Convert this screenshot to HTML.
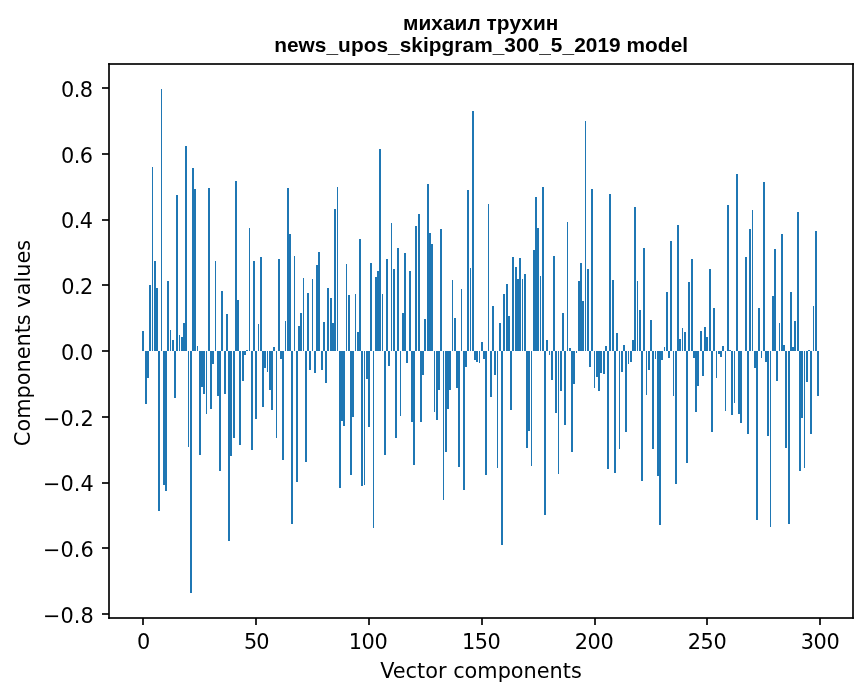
<!DOCTYPE html>
<html lang="ru">
<head>
<meta charset="utf-8">
<title>михаил трухин — news_upos_skipgram_300_5_2019 model</title>
<style>
html,body{margin:0;padding:0;background:#fff;}
body{width:867px;height:696px;overflow:hidden;position:relative;}
svg{will-change:transform;position:absolute;left:0;top:0;display:block;}
.g rect{shape-rendering:crispEdges;}
text{font-family:"DejaVu Sans","Liberation Sans",sans-serif;font-size:20.833px;fill:#000;}
.t{font-family:"Liberation Sans","DejaVu Sans",sans-serif;font-weight:bold;font-size:20.833px;text-anchor:middle;}
.y{text-anchor:end;}
.x{text-anchor:middle;}
</style>
</head>
<body>
<svg width="867" height="696" viewBox="0 0 867 696">
<rect width="867" height="696" fill="#ffffff"/>
<g class="g">
<g fill="#1f77b4">
<rect x="142" y="331" width="2" height="20"/>
<rect x="145" y="351" width="2" height="53"/>
<rect x="147" y="351" width="2" height="27"/>
<rect x="149" y="285" width="2" height="66"/>
<rect x="152" y="167" width="1" height="184"/>
<rect x="154" y="261" width="2" height="90"/>
<rect x="156" y="288" width="2" height="63"/>
<rect x="158" y="351" width="2" height="160"/>
<rect x="161" y="89" width="1" height="262"/>
<rect x="163" y="351" width="2" height="134"/>
<rect x="165" y="351" width="2" height="140"/>
<rect x="167" y="281" width="2" height="70"/>
<rect x="170" y="330" width="1" height="21"/>
<rect x="172" y="340" width="2" height="11"/>
<rect x="174" y="351" width="2" height="47"/>
<rect x="176" y="195" width="2" height="156"/>
<rect x="179" y="335" width="1" height="16"/>
<rect x="181" y="337" width="2" height="14"/>
<rect x="183" y="323" width="2" height="28"/>
<rect x="185" y="146" width="2" height="205"/>
<rect x="188" y="351" width="1" height="96"/>
<rect x="190" y="351" width="2" height="242"/>
<rect x="192" y="168" width="2" height="183"/>
<rect x="194" y="189" width="2" height="162"/>
<rect x="197" y="346" width="1" height="5"/>
<rect x="199" y="351" width="2" height="104"/>
<rect x="201" y="351" width="2" height="36"/>
<rect x="203" y="351" width="2" height="43"/>
<rect x="206" y="351" width="1" height="63"/>
<rect x="208" y="188" width="2" height="163"/>
<rect x="210" y="351" width="2" height="58"/>
<rect x="212" y="351" width="2" height="13"/>
<rect x="215" y="261" width="1" height="90"/>
<rect x="217" y="351" width="2" height="45"/>
<rect x="219" y="351" width="2" height="120"/>
<rect x="221" y="291" width="2" height="60"/>
<rect x="224" y="351" width="2" height="43"/>
<rect x="226" y="314" width="2" height="37"/>
<rect x="228" y="351" width="2" height="190"/>
<rect x="230" y="351" width="2" height="105"/>
<rect x="233" y="351" width="2" height="87"/>
<rect x="235" y="181" width="2" height="170"/>
<rect x="237" y="300" width="2" height="51"/>
<rect x="239" y="351" width="2" height="94"/>
<rect x="242" y="351" width="2" height="30"/>
<rect x="244" y="351" width="2" height="4"/>
<rect x="246" y="350" width="2" height="1"/>
<rect x="249" y="228" width="1" height="123"/>
<rect x="251" y="351" width="2" height="99"/>
<rect x="253" y="261" width="2" height="90"/>
<rect x="255" y="351" width="2" height="68"/>
<rect x="258" y="324" width="1" height="27"/>
<rect x="260" y="257" width="2" height="94"/>
<rect x="262" y="351" width="2" height="56"/>
<rect x="264" y="351" width="2" height="17"/>
<rect x="267" y="351" width="1" height="21"/>
<rect x="269" y="351" width="2" height="39"/>
<rect x="271" y="351" width="2" height="59"/>
<rect x="273" y="347" width="2" height="4"/>
<rect x="276" y="351" width="1" height="87"/>
<rect x="278" y="259" width="2" height="92"/>
<rect x="280" y="351" width="2" height="8"/>
<rect x="282" y="351" width="2" height="109"/>
<rect x="285" y="321" width="1" height="30"/>
<rect x="287" y="188" width="2" height="163"/>
<rect x="289" y="234" width="2" height="117"/>
<rect x="291" y="351" width="2" height="173"/>
<rect x="294" y="256" width="1" height="95"/>
<rect x="296" y="351" width="2" height="131"/>
<rect x="298" y="326" width="2" height="25"/>
<rect x="300" y="313" width="2" height="38"/>
<rect x="303" y="278" width="1" height="73"/>
<rect x="305" y="351" width="2" height="111"/>
<rect x="307" y="293" width="2" height="58"/>
<rect x="309" y="351" width="2" height="19"/>
<rect x="312" y="279" width="1" height="72"/>
<rect x="314" y="351" width="2" height="22"/>
<rect x="316" y="265" width="2" height="86"/>
<rect x="318" y="252" width="2" height="99"/>
<rect x="321" y="351" width="2" height="19"/>
<rect x="323" y="322" width="2" height="29"/>
<rect x="325" y="351" width="2" height="32"/>
<rect x="327" y="288" width="2" height="63"/>
<rect x="330" y="298" width="2" height="53"/>
<rect x="332" y="323" width="2" height="28"/>
<rect x="334" y="209" width="2" height="142"/>
<rect x="337" y="187" width="1" height="164"/>
<rect x="339" y="351" width="2" height="137"/>
<rect x="341" y="351" width="2" height="70"/>
<rect x="343" y="351" width="2" height="75"/>
<rect x="346" y="264" width="1" height="87"/>
<rect x="348" y="295" width="2" height="56"/>
<rect x="350" y="351" width="2" height="124"/>
<rect x="352" y="351" width="2" height="66"/>
<rect x="355" y="294" width="1" height="57"/>
<rect x="357" y="332" width="2" height="19"/>
<rect x="359" y="239" width="2" height="112"/>
<rect x="361" y="351" width="2" height="135"/>
<rect x="364" y="351" width="1" height="134"/>
<rect x="366" y="351" width="2" height="28"/>
<rect x="368" y="351" width="2" height="76"/>
<rect x="370" y="263" width="2" height="88"/>
<rect x="373" y="351" width="1" height="177"/>
<rect x="375" y="277" width="2" height="74"/>
<rect x="377" y="271" width="2" height="80"/>
<rect x="379" y="149" width="2" height="202"/>
<rect x="382" y="294" width="1" height="57"/>
<rect x="384" y="351" width="2" height="104"/>
<rect x="386" y="259" width="2" height="92"/>
<rect x="388" y="351" width="2" height="15"/>
<rect x="391" y="223" width="1" height="128"/>
<rect x="393" y="269" width="2" height="82"/>
<rect x="395" y="351" width="2" height="87"/>
<rect x="397" y="248" width="2" height="103"/>
<rect x="400" y="351" width="1" height="65"/>
<rect x="402" y="313" width="2" height="38"/>
<rect x="404" y="253" width="2" height="98"/>
<rect x="406" y="351" width="2" height="12"/>
<rect x="409" y="271" width="2" height="80"/>
<rect x="411" y="351" width="2" height="71"/>
<rect x="413" y="351" width="2" height="114"/>
<rect x="415" y="226" width="2" height="125"/>
<rect x="418" y="214" width="2" height="137"/>
<rect x="420" y="351" width="2" height="71"/>
<rect x="422" y="351" width="2" height="24"/>
<rect x="424" y="319" width="2" height="32"/>
<rect x="427" y="184" width="2" height="167"/>
<rect x="429" y="233" width="2" height="118"/>
<rect x="431" y="244" width="2" height="107"/>
<rect x="434" y="351" width="1" height="61"/>
<rect x="436" y="351" width="2" height="69"/>
<rect x="438" y="351" width="2" height="39"/>
<rect x="440" y="229" width="2" height="122"/>
<rect x="443" y="351" width="1" height="149"/>
<rect x="445" y="351" width="2" height="101"/>
<rect x="447" y="351" width="2" height="58"/>
<rect x="449" y="351" width="2" height="39"/>
<rect x="452" y="280" width="1" height="71"/>
<rect x="454" y="318" width="2" height="33"/>
<rect x="456" y="351" width="2" height="37"/>
<rect x="458" y="351" width="2" height="116"/>
<rect x="461" y="289" width="1" height="62"/>
<rect x="463" y="351" width="2" height="139"/>
<rect x="465" y="351" width="2" height="16"/>
<rect x="467" y="190" width="2" height="161"/>
<rect x="470" y="268" width="1" height="83"/>
<rect x="472" y="111" width="2" height="240"/>
<rect x="474" y="351" width="2" height="9"/>
<rect x="476" y="351" width="2" height="11"/>
<rect x="479" y="351" width="1" height="12"/>
<rect x="481" y="342" width="2" height="9"/>
<rect x="483" y="351" width="2" height="8"/>
<rect x="485" y="351" width="2" height="124"/>
<rect x="488" y="204" width="1" height="147"/>
<rect x="490" y="351" width="2" height="46"/>
<rect x="492" y="306" width="2" height="45"/>
<rect x="494" y="351" width="2" height="24"/>
<rect x="497" y="351" width="1" height="117"/>
<rect x="499" y="323" width="2" height="28"/>
<rect x="501" y="351" width="2" height="194"/>
<rect x="503" y="294" width="2" height="57"/>
<rect x="506" y="284" width="2" height="67"/>
<rect x="508" y="316" width="2" height="35"/>
<rect x="510" y="351" width="2" height="59"/>
<rect x="512" y="257" width="2" height="94"/>
<rect x="515" y="267" width="2" height="84"/>
<rect x="517" y="279" width="2" height="72"/>
<rect x="519" y="258" width="2" height="93"/>
<rect x="522" y="279" width="1" height="72"/>
<rect x="524" y="274" width="2" height="77"/>
<rect x="526" y="351" width="2" height="97"/>
<rect x="528" y="351" width="2" height="80"/>
<rect x="531" y="351" width="1" height="115"/>
<rect x="533" y="250" width="2" height="101"/>
<rect x="535" y="197" width="2" height="154"/>
<rect x="537" y="228" width="2" height="123"/>
<rect x="540" y="276" width="1" height="75"/>
<rect x="542" y="187" width="2" height="164"/>
<rect x="544" y="351" width="2" height="164"/>
<rect x="546" y="340" width="2" height="11"/>
<rect x="549" y="351" width="1" height="4"/>
<rect x="551" y="351" width="2" height="29"/>
<rect x="553" y="256" width="2" height="95"/>
<rect x="555" y="351" width="2" height="62"/>
<rect x="558" y="351" width="1" height="123"/>
<rect x="560" y="351" width="2" height="40"/>
<rect x="562" y="313" width="2" height="38"/>
<rect x="564" y="351" width="2" height="74"/>
<rect x="567" y="222" width="1" height="129"/>
<rect x="569" y="348" width="2" height="3"/>
<rect x="571" y="351" width="2" height="101"/>
<rect x="573" y="351" width="2" height="33"/>
<rect x="576" y="351" width="1" height="2"/>
<rect x="578" y="281" width="2" height="70"/>
<rect x="580" y="263" width="2" height="88"/>
<rect x="582" y="301" width="2" height="50"/>
<rect x="585" y="121" width="1" height="230"/>
<rect x="587" y="269" width="2" height="82"/>
<rect x="589" y="351" width="2" height="16"/>
<rect x="591" y="189" width="2" height="162"/>
<rect x="594" y="351" width="1" height="37"/>
<rect x="596" y="351" width="2" height="26"/>
<rect x="598" y="351" width="2" height="40"/>
<rect x="600" y="351" width="2" height="22"/>
<rect x="603" y="351" width="2" height="23"/>
<rect x="605" y="346" width="2" height="5"/>
<rect x="607" y="351" width="2" height="118"/>
<rect x="609" y="194" width="2" height="157"/>
<rect x="612" y="280" width="2" height="71"/>
<rect x="614" y="351" width="2" height="122"/>
<rect x="616" y="333" width="2" height="18"/>
<rect x="619" y="351" width="1" height="98"/>
<rect x="621" y="351" width="2" height="21"/>
<rect x="623" y="345" width="2" height="6"/>
<rect x="625" y="351" width="2" height="81"/>
<rect x="628" y="351" width="1" height="13"/>
<rect x="630" y="351" width="2" height="11"/>
<rect x="632" y="340" width="2" height="11"/>
<rect x="634" y="207" width="2" height="144"/>
<rect x="637" y="281" width="1" height="70"/>
<rect x="639" y="310" width="2" height="41"/>
<rect x="641" y="351" width="2" height="130"/>
<rect x="643" y="248" width="2" height="103"/>
<rect x="646" y="351" width="1" height="44"/>
<rect x="648" y="351" width="2" height="19"/>
<rect x="650" y="320" width="2" height="31"/>
<rect x="652" y="351" width="2" height="98"/>
<rect x="655" y="351" width="1" height="8"/>
<rect x="657" y="351" width="2" height="125"/>
<rect x="659" y="351" width="2" height="174"/>
<rect x="661" y="351" width="2" height="9"/>
<rect x="664" y="347" width="1" height="4"/>
<rect x="666" y="292" width="2" height="59"/>
<rect x="668" y="351" width="2" height="7"/>
<rect x="670" y="241" width="2" height="110"/>
<rect x="673" y="351" width="1" height="45"/>
<rect x="675" y="351" width="2" height="133"/>
<rect x="677" y="225" width="2" height="126"/>
<rect x="679" y="339" width="2" height="12"/>
<rect x="682" y="328" width="1" height="23"/>
<rect x="684" y="332" width="2" height="19"/>
<rect x="686" y="351" width="2" height="112"/>
<rect x="688" y="282" width="2" height="69"/>
<rect x="691" y="259" width="2" height="92"/>
<rect x="693" y="351" width="2" height="7"/>
<rect x="695" y="351" width="2" height="61"/>
<rect x="697" y="351" width="2" height="35"/>
<rect x="700" y="331" width="2" height="20"/>
<rect x="702" y="351" width="2" height="25"/>
<rect x="704" y="327" width="2" height="24"/>
<rect x="706" y="337" width="2" height="14"/>
<rect x="709" y="269" width="2" height="82"/>
<rect x="711" y="351" width="2" height="81"/>
<rect x="713" y="308" width="2" height="43"/>
<rect x="716" y="351" width="1" height="27"/>
<rect x="718" y="351" width="2" height="3"/>
<rect x="720" y="351" width="2" height="6"/>
<rect x="722" y="346" width="2" height="5"/>
<rect x="725" y="351" width="1" height="60"/>
<rect x="727" y="205" width="2" height="146"/>
<rect x="729" y="350" width="2" height="1"/>
<rect x="731" y="351" width="2" height="64"/>
<rect x="734" y="351" width="1" height="52"/>
<rect x="736" y="174" width="2" height="177"/>
<rect x="738" y="351" width="2" height="63"/>
<rect x="740" y="351" width="2" height="72"/>
<rect x="745" y="257" width="2" height="94"/>
<rect x="747" y="351" width="2" height="83"/>
<rect x="749" y="229" width="2" height="122"/>
<rect x="752" y="210" width="1" height="141"/>
<rect x="754" y="351" width="2" height="17"/>
<rect x="756" y="351" width="2" height="169"/>
<rect x="758" y="308" width="2" height="43"/>
<rect x="761" y="351" width="1" height="7"/>
<rect x="763" y="182" width="2" height="169"/>
<rect x="765" y="351" width="2" height="11"/>
<rect x="767" y="351" width="2" height="85"/>
<rect x="770" y="351" width="1" height="176"/>
<rect x="772" y="296" width="2" height="55"/>
<rect x="774" y="249" width="2" height="102"/>
<rect x="776" y="351" width="2" height="30"/>
<rect x="779" y="323" width="1" height="28"/>
<rect x="781" y="234" width="2" height="117"/>
<rect x="783" y="345" width="2" height="6"/>
<rect x="785" y="351" width="2" height="97"/>
<rect x="788" y="351" width="2" height="173"/>
<rect x="790" y="292" width="2" height="59"/>
<rect x="792" y="347" width="2" height="4"/>
<rect x="794" y="321" width="2" height="30"/>
<rect x="797" y="212" width="2" height="139"/>
<rect x="799" y="351" width="2" height="120"/>
<rect x="801" y="351" width="2" height="67"/>
<rect x="804" y="351" width="1" height="117"/>
<rect x="806" y="351" width="2" height="31"/>
<rect x="808" y="350" width="2" height="1"/>
<rect x="810" y="351" width="2" height="83"/>
<rect x="813" y="306" width="1" height="45"/>
<rect x="815" y="231" width="2" height="120"/>
<rect x="817" y="351" width="2" height="45"/>
</g>
<g fill="#2a2a2a">
<rect x="102" y="87" width="6" height="2"/>
<rect x="102" y="153" width="6" height="2"/>
<rect x="102" y="219" width="6" height="2"/>
<rect x="102" y="284" width="6" height="2"/>
<rect x="102" y="350" width="6" height="2"/>
<rect x="102" y="416" width="6" height="2"/>
<rect x="102" y="482" width="6" height="2"/>
<rect x="102" y="547" width="6" height="2"/>
<rect x="102" y="613" width="6" height="2"/>
<rect x="108" y="65" width="1" height="22"/>
<rect x="108" y="89" width="1" height="64"/>
<rect x="108" y="155" width="1" height="64"/>
<rect x="108" y="221" width="1" height="63"/>
<rect x="108" y="286" width="1" height="64"/>
<rect x="108" y="352" width="1" height="64"/>
<rect x="108" y="418" width="1" height="64"/>
<rect x="108" y="484" width="1" height="63"/>
<rect x="108" y="549" width="1" height="64"/>
<rect x="108" y="615" width="1" height="2"/>
<rect x="109" y="65" width="1" height="552"/>
<rect x="110" y="63" width="742" height="2"/>
<rect x="110" y="617" width="32" height="2"/>
<rect x="142" y="617" width="2" height="1"/>
<rect x="142" y="619" width="2" height="6"/>
<rect x="144" y="617" width="111" height="2"/>
<rect x="255" y="617" width="2" height="1"/>
<rect x="255" y="619" width="2" height="6"/>
<rect x="257" y="617" width="111" height="2"/>
<rect x="368" y="617" width="2" height="1"/>
<rect x="368" y="619" width="2" height="6"/>
<rect x="370" y="617" width="111" height="2"/>
<rect x="481" y="617" width="2" height="1"/>
<rect x="481" y="619" width="2" height="6"/>
<rect x="483" y="617" width="111" height="2"/>
<rect x="594" y="617" width="2" height="1"/>
<rect x="594" y="619" width="2" height="6"/>
<rect x="596" y="617" width="110" height="2"/>
<rect x="706" y="617" width="2" height="1"/>
<rect x="706" y="619" width="2" height="6"/>
<rect x="708" y="617" width="111" height="2"/>
<rect x="819" y="617" width="2" height="1"/>
<rect x="819" y="619" width="2" height="6"/>
<rect x="821" y="617" width="31" height="2"/>
<rect x="852" y="65" width="2" height="552"/>
</g>
<g fill="#171717">
<rect x="108" y="63" width="1" height="1"/>
<rect x="108" y="618" width="1" height="1"/>
<rect x="853" y="63" width="1" height="1"/>
<rect x="853" y="618" width="1" height="1"/>
</g>
<g fill="#070707">
<rect x="108" y="87" width="1" height="2"/>
<rect x="108" y="153" width="1" height="2"/>
<rect x="108" y="219" width="1" height="2"/>
<rect x="108" y="284" width="1" height="2"/>
<rect x="108" y="350" width="1" height="2"/>
<rect x="108" y="416" width="1" height="2"/>
<rect x="108" y="482" width="1" height="2"/>
<rect x="108" y="547" width="1" height="2"/>
<rect x="108" y="613" width="1" height="2"/>
<rect x="109" y="64" width="1" height="1"/>
<rect x="109" y="617" width="1" height="1"/>
<rect x="142" y="618" width="2" height="1"/>
<rect x="255" y="618" width="2" height="1"/>
<rect x="368" y="618" width="2" height="1"/>
<rect x="481" y="618" width="2" height="1"/>
<rect x="594" y="618" width="2" height="1"/>
<rect x="706" y="618" width="2" height="1"/>
<rect x="819" y="618" width="2" height="1"/>
<rect x="852" y="64" width="1" height="1"/>
<rect x="852" y="617" width="1" height="1"/>
</g>
<g fill="#0c0c0c">
<rect x="108" y="64" width="1" height="1"/>
<rect x="108" y="617" width="1" height="1"/>
<rect x="109" y="63" width="1" height="1"/>
<rect x="109" y="618" width="1" height="1"/>
<rect x="852" y="63" width="1" height="1"/>
<rect x="852" y="618" width="1" height="1"/>
<rect x="853" y="64" width="1" height="1"/>
<rect x="853" y="617" width="1" height="1"/>
</g>
</g>
<text class="t" x="480.70" y="30.00" style="letter-spacing:0.070px">михаил трухин</text>
<text class="t" x="481.15" y="52.00" style="letter-spacing:0.050px">news_upos_skipgram_300_5_2019 model</text>
<text class="y" x="92.50" y="97.00" style="letter-spacing:-0.500px">0.8</text>
<text class="y" x="92.50" y="163.00" style="letter-spacing:-0.500px">0.6</text>
<text class="y" x="92.50" y="228.00" style="letter-spacing:-0.500px">0.4</text>
<text class="y" x="92.75" y="294.00" style="letter-spacing:-0.500px">0.2</text>
<text class="y" x="93.00" y="360.00" style="letter-spacing:-0.350px">0.0</text>
<text class="y" x="93.75" y="426.00" style="letter-spacing:0.050px">−0.2</text>
<text class="y" x="93.75" y="491.00" style="letter-spacing:0.050px">−0.4</text>
<text class="y" x="93.75" y="557.00" style="letter-spacing:0.050px">−0.6</text>
<text class="y" x="93.75" y="623.00" style="letter-spacing:0.050px">−0.8</text>
<text class="x" x="143.75" y="649.00">0</text>
<text class="x" x="256.25" y="649.00" style="letter-spacing:-1.100px">50</text>
<text class="x" x="368.00" y="649.00" style="letter-spacing:-0.450px">100</text>
<text class="x" x="481.25" y="649.00" style="letter-spacing:-0.500px">150</text>
<text class="x" x="594.00" y="649.00" style="letter-spacing:-0.450px">200</text>
<text class="x" x="707.00" y="649.00" style="letter-spacing:-0.400px">250</text>
<text class="x" x="820.00" y="649.00" style="letter-spacing:-0.450px">300</text>
<text class="x" x="481.00" y="677.50">Vector components</text>
<text class="x" transform="translate(30.00 343.00) rotate(-90)" style="letter-spacing:0.010px">Components values</text>
</svg>
</body>
</html>
